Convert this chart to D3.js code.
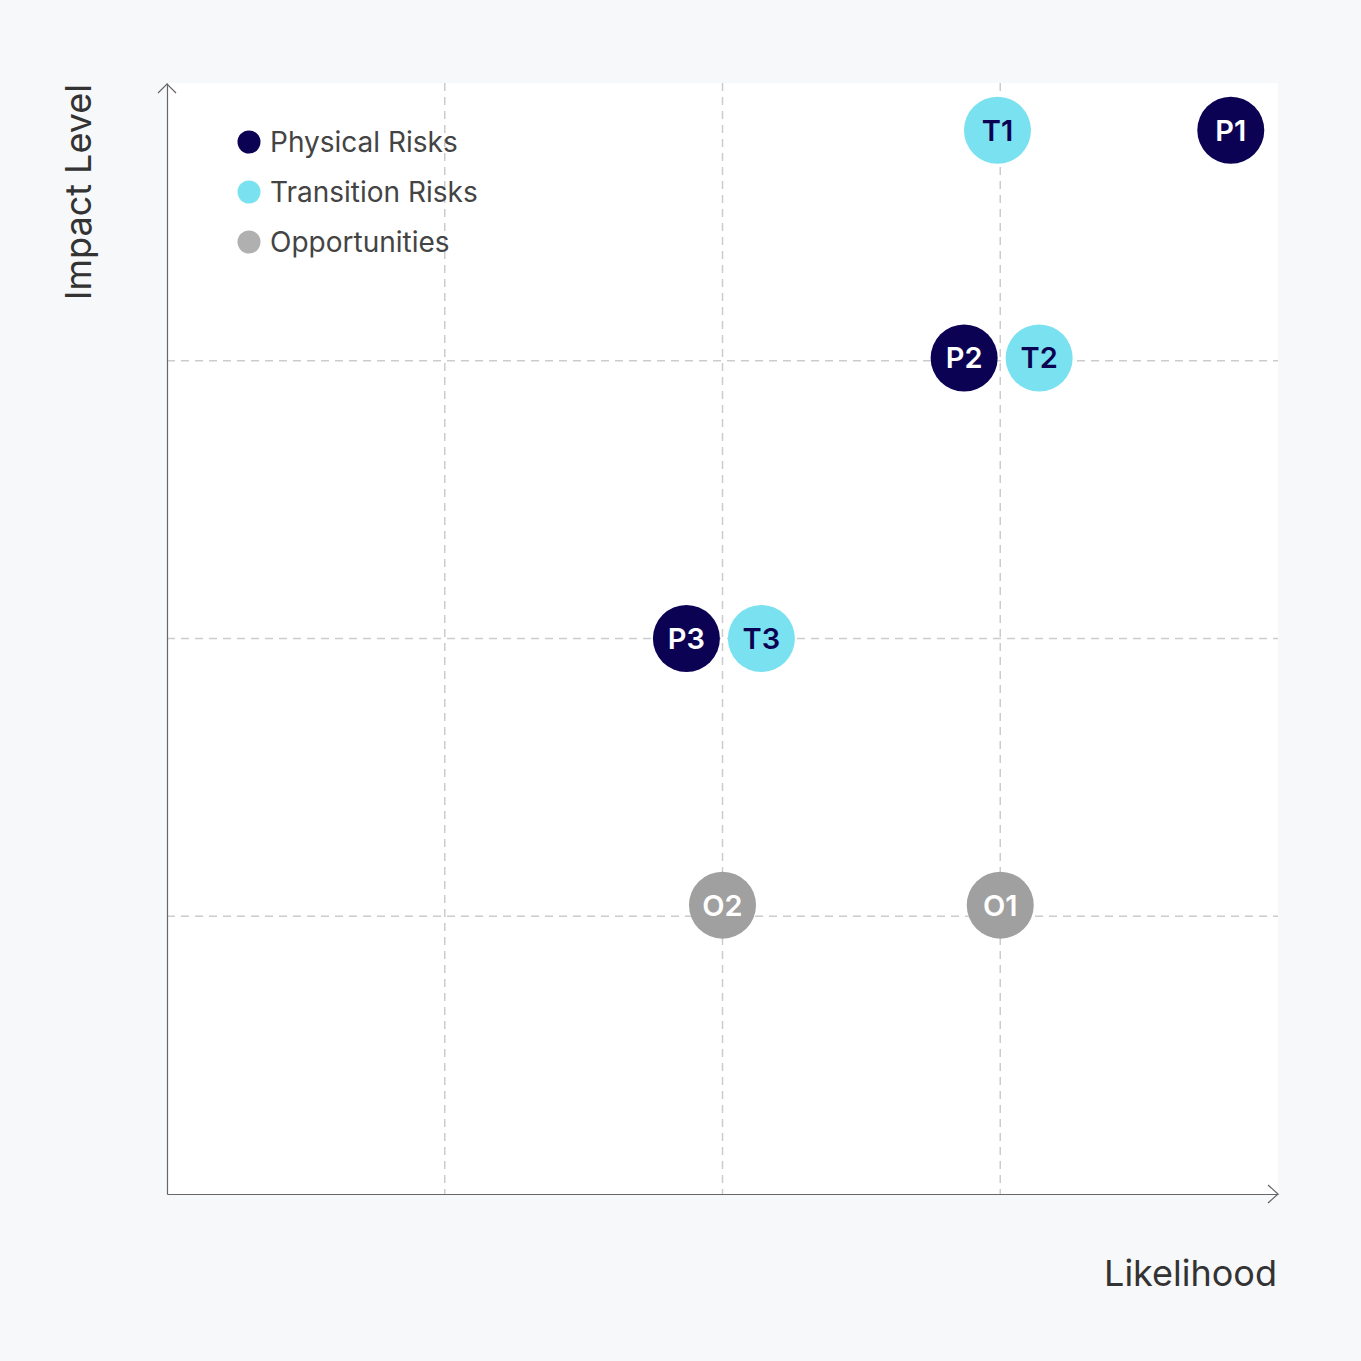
<!DOCTYPE html>
<html><head><meta charset="utf-8">
<script src="https://cdn.jsdelivr.net/npm/d3@7/dist/d3.min.js"></script>
<style>
html,body{margin:0;padding:0;background:#f7f8fa;}
svg{display:block;font-family:Inter,"Noto Sans",sans-serif;}
</style></head>
<body>
<svg id="chart" width="1361" height="1361"></svg>
<script>
const seriesNames = ["Physical Risks", "Transition Risks", "Opportunities"];
const seriesColors = ["#0c0254", "#79e1ef", "#a0a0a0"];
const legendColors = ["#0c0254", "#79e1ef", "#b0b0b0"];
const labelColors = ["#ffffff", "#0c0254", "#ffffff"];
const physicalLabels = ["P1", "P2", "P3"];
const physicalLikelihood = [3.83, 2.87, 1.87];
const physicalImpact = [3.83, 3.01, 2.0];
const transitionLabels = ["T1", "T2", "T3"];
const transitionLikelihood = [2.99, 3.14, 2.14];
const transitionImpact = [3.83, 3.01, 2.0];
const opportunityLabels = ["O1", "O2"];
const opportunityLikelihood = [3.0, 2.0];
const opportunityImpact = [1.04, 1.04];
const gridTicks = [1, 2, 3];
const axisDomain = [0, 4];

const series = [
  {labels: physicalLabels, x: physicalLikelihood, y: physicalImpact},
  {labels: transitionLabels, x: transitionLikelihood, y: transitionImpact},
  {labels: opportunityLabels, x: opportunityLikelihood, y: opportunityImpact}
];
const points = [];
series.forEach((s, si) => s.labels.forEach((l, i) => points.push({label: l, x: s.x[i], y: s.y[i], s: si})));

const svg = d3.select("#chart");
const m = {left: 167, top: 83, right: 1278, bottom: 1194};
const x = d3.scaleLinear().domain(axisDomain).range([m.left, m.right]);
const y = d3.scaleLinear().domain(axisDomain).range([m.bottom, m.top]);

svg.append("rect").attr("x", m.left).attr("y", m.top)
  .attr("width", m.right - m.left).attr("height", m.bottom - m.top).attr("fill", "#ffffff");

// grid
const grid = svg.append("g");
grid.selectAll(".vg").data(gridTicks).join("line")
  .attr("x1", d => x(d)).attr("x2", d => x(d)).attr("y1", m.top).attr("y2", m.bottom)
  .attr("stroke", "#cccccc").attr("stroke-width", 1.5).attr("stroke-dasharray", "8,6");
grid.selectAll(".hg").data(gridTicks).join("line")
  .attr("y1", d => y(d)).attr("y2", d => y(d)).attr("x1", m.left).attr("x2", m.right)
  .attr("stroke", "#cccccc").attr("stroke-width", 1.5).attr("stroke-dasharray", "8,6");

// axes via d3 axis (no ticks)
svg.append("g").attr("transform", `translate(0,${m.bottom})`)
  .call(d3.axisBottom(x).tickValues([]).tickSizeOuter(0))
  .call(g => g.select(".domain").attr("stroke", "#666").attr("stroke-width", 1.2));
svg.append("g").attr("transform", `translate(${m.left},0)`)
  .call(d3.axisLeft(y).tickValues([]).tickSizeOuter(0))
  .call(g => g.select(".domain").attr("stroke", "#666").attr("stroke-width", 1.2));

// arrowheads
svg.append("path").attr("d", `M${m.right-10},${m.bottom-9}L${m.right},${m.bottom}L${m.right-10},${m.bottom+9}`)
  .attr("fill", "none").attr("stroke", "#666").attr("stroke-width", 1.2);
svg.append("path").attr("d", `M${m.left-9},${m.top+10}L${m.left},${m.top+1}L${m.left+9},${m.top+10}`)
  .attr("fill", "none").attr("stroke", "#666").attr("stroke-width", 1.2);

// axis titles
svg.append("text").attr("x", m.right - 1).attr("y", 1286).attr("text-anchor", "end")
  .attr("font-size", 36).attr("fill", "#333").text("Likelihood");
svg.append("text").attr("transform", `translate(91,${m.top + 1}) rotate(-90)`).attr("text-anchor", "end")
  .attr("font-size", 36).attr("fill", "#333").text("Impact Level");

// points
const pg = svg.append("g").selectAll("g").data(points).join("g")
  .attr("transform", d => `translate(${x(d.x)},${y(d.y)})`);
pg.append("circle").attr("r", 33.5).attr("fill", d => seriesColors[d.s]);
pg.append("text").attr("text-anchor", "middle").attr("dy", "0.36em")
  .attr("font-size", 29).attr("font-weight", 600).attr("fill", d => labelColors[d.s]).text(d => d.label);

// legend
const lg = svg.append("g").selectAll("g").data(seriesNames).join("g")
  .attr("transform", (d, i) => `translate(249,${142 + i * 50})`);
lg.append("circle").attr("r", 11.5).attr("fill", (d, i) => legendColors[i]);
lg.append("text").attr("x", 21).attr("dy", "0.37em").attr("font-size", 28).attr("fill", "#444").text(d => d);
</script>
</body></html>
